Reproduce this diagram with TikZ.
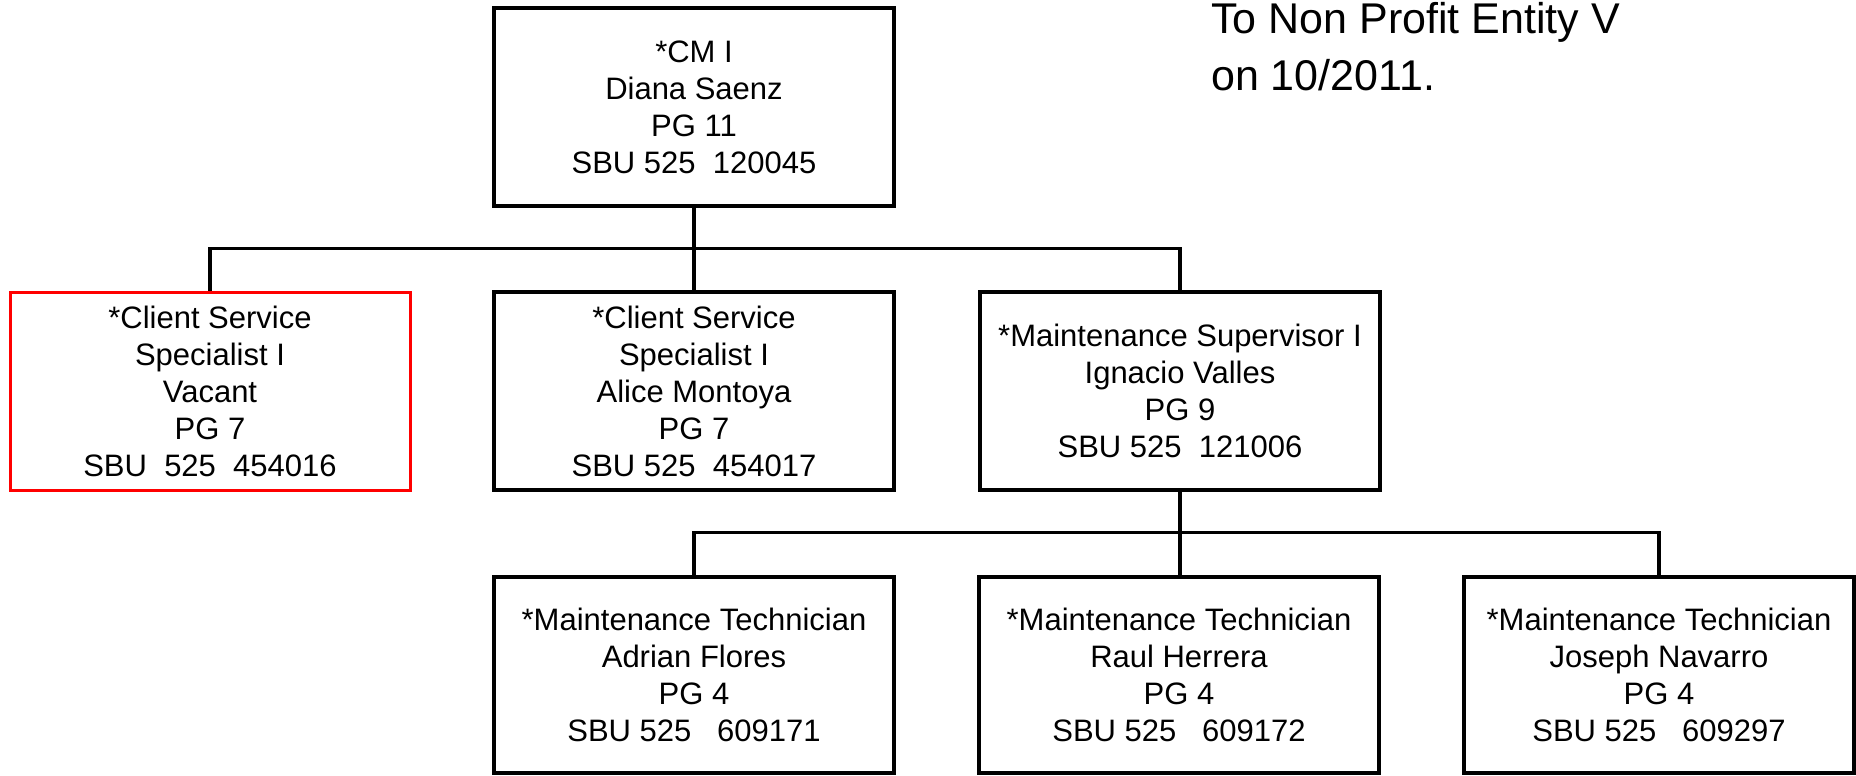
\documentclass[tikz,border=0pt]{standalone}
\usepackage{fontspec}
\setmainfont{Liberation Sans}
\begin{document}
\begin{tikzpicture}[x=1pt, y=-1pt,
    post/.style={draw, line width=3.5pt, minimum width=400pt, minimum height=198pt,
        inner sep=0pt, align=center, font=\fontsize{31}{37}\selectfont},
    vacant/.style={post, draw=red, line width=3pt},
    link/.style={line width=3.5pt}]
    \useasboundingbox (0,0) rectangle (1856,776);
    % top
    \node[post] (cm) at (694,107) {*CM I\\Diana Saenz\\PG 11\\SBU 525\ \ 120045};
    % second row
    \node[vacant] (csa) at (210,391) {*Client Service\\Specialist I\\Vacant\\PG 7\\SBU\ \ 525\ \ 454016};
    \node[post] (csb) at (694,391) {*Client Service\\Specialist I\\Alice Montoya\\PG 7\\SBU 525\ \ 454017};
    \node[post] (msup) at (1180,391) {*Maintenance Supervisor I\\Ignacio Valles\\PG 9\\SBU 525\ \ 121006};
    % third row
    \node[post, minimum height=196pt] (techa) at (694,675) {*Maintenance Technician\\Adrian Flores\\PG 4\\SBU 525\ \ \ 609171};
    \node[post, minimum height=196pt] (techb) at (1179,675) {*Maintenance Technician\\Raul Herrera\\PG 4\\SBU 525\ \ \ 609172};
    \node[post, minimum height=196pt, minimum width=390pt] (techc) at (1659,675) {*Maintenance Technician\\Joseph Navarro\\PG 4\\SBU 525\ \ \ 609297};
    % note
    \node[anchor=north west, inner sep=0pt, align=left, font=\fontsize{43}{57}\selectfont] (note) at (1211,2) {To Non Profit Entity V\\on 10/2011.};
    % connectors
    \draw[link] (cm.south) -- (csb.north);
    \draw[link] (csa.north) -- ++(0,-42) -| (msup.north);
    \draw[link] (msup.south) -- (msup.south |- techb.north);
    \draw[link] (techa.north) -- ++(0,-43) -| (techc.north);
\end{tikzpicture}
\end{document}
